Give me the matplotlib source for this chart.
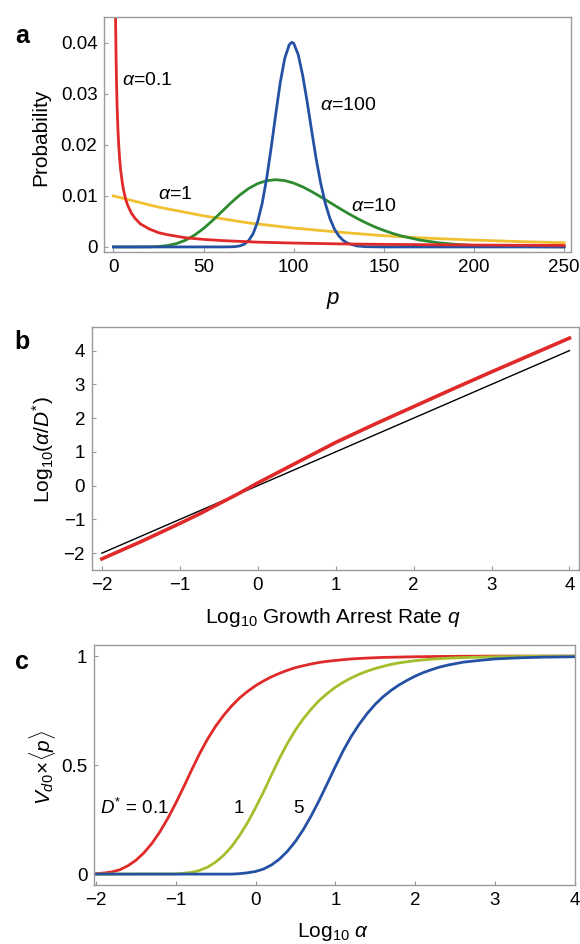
import numpy as np
import matplotlib
matplotlib.use('Agg')
import matplotlib.pyplot as plt

plt.rcParams['font.family'] = ['Liberation Sans', 'DejaVu Sans']
plt.rcParams['mathtext.fontset'] = 'custom'
plt.rcParams['mathtext.rm'] = 'Liberation Sans'
plt.rcParams['mathtext.it'] = 'Liberation Sans:italic'
plt.rcParams['axes.unicode_minus'] = True

# panel a: probability distributions
p_red = [1.2, 1.4, 1.6, 1.8, 2, 2.5, 3, 3.5, 4, 5, 6, 7, 8, 10, 12, 15, 20, 25, 30, 40, 50,
         60, 80, 100, 125, 150, 200, 250]
prob_red = [0.0447, 0.0389, 0.0345, 0.0310, 0.0282, 0.0231, 0.0196, 0.0171, 0.0151, 0.0124,
            0.0105, 0.0091, 0.0081, 0.0066, 0.0056, 0.0045, 0.0035, 0.0028, 0.0024, 0.0018,
            0.00148, 0.00125, 0.00094, 0.00076, 0.0006, 0.0005, 0.00037, 0.00029]
p_yellow = [0, 25, 50, 75, 100, 125, 150, 175, 200, 225, 250]
prob_yellow = [0.0100, 0.0078, 0.0061, 0.0047, 0.0037, 0.0029, 0.0022, 0.0017, 0.00135, 0.00105, 0.00082]
p_green = [0, 10, 20, 25, 30, 35, 40, 45, 50, 55, 60, 65, 70, 75, 80, 85, 90, 95, 100, 105,
           110, 115, 120, 125, 130, 135, 140, 145, 150, 155, 160, 170, 180, 190, 200, 220, 250]
prob_green = [0, 0.0000001, 0.00002, 0.00009, 0.00027, 0.00066, 0.00132, 0.00231, 0.00362,
              0.00518, 0.00688, 0.00858, 0.01014, 0.01145, 0.01241, 0.01298, 0.01318, 0.01300,
              0.01251, 0.01177, 0.01085, 0.00981, 0.00874, 0.00765, 0.00661, 0.00563, 0.00473,
              0.00393, 0.00324, 0.00264, 0.00213, 0.00135, 0.00083, 0.0005, 0.00029, 0.00009,
              0.00001]
p_blue = [0, 60, 65, 67.5, 70, 72.5, 75, 77.5, 80, 82.5, 85, 87.5, 90, 92.5, 95, 97.5, 99, 100,
          102.5, 105, 107.5, 110, 112.5, 115, 117.5, 120, 122.5, 125, 127.5, 130, 135, 140,
          150, 250]
prob_blue = [0, 0.000001, 0.00002, 0.000065, 0.0002, 0.00052, 0.00123, 0.00259, 0.00493,
             0.0085, 0.01341, 0.0194, 0.0259, 0.0321, 0.0369, 0.0396, 0.0401, 0.0399, 0.0377,
             0.0336, 0.0284, 0.0227, 0.0172, 0.01245, 0.00859, 0.00568, 0.00358, 0.00217,
             0.00127, 0.00071, 0.0002, 0.00005, 0, 0]

# panel b
q_log = [-2, -1.5, -1, -0.75, -0.5, -0.25, 0, 0.25, 0.5, 0.75, 1, 1.5, 2, 2.5, 3, 3.5, 4]
ratio_log = [-2.17, -1.66, -1.12, -0.84, -0.54, -0.24, 0.08, 0.38, 0.68, 0.98, 1.28, 1.82,
             2.34, 2.86, 3.37, 3.87, 4.37]
ref_x = [-2, 4]
ref_y = [-2, 4]

# panel c
a_red = [-2.0, -1.9, -1.8, -1.7, -1.6, -1.5, -1.4, -1.3, -1.2, -1.1, -1.0, -0.9, -0.8, -0.7,
         -0.6, -0.5, -0.4, -0.3, -0.2, -0.1, 0.0, 0.1, 0.2, 0.3, 0.4, 0.5, 0.6, 0.7, 0.8,
         0.9, 1.0, 1.2, 1.4, 1.6, 2.0, 2.5, 3.0, 4.0]
v_red = [0.002, 0.005, 0.010, 0.020, 0.038, 0.063, 0.097, 0.140, 0.193, 0.255, 0.325, 0.400,
         0.478, 0.553, 0.620, 0.678, 0.728, 0.771, 0.808, 0.838, 0.864, 0.886, 0.905, 0.921,
         0.935, 0.947, 0.956, 0.964, 0.971, 0.976, 0.980, 0.987, 0.991, 0.994, 0.997, 0.999,
         1.0, 1.0]
a_green = [-2.0, -1.0, -0.9, -0.8, -0.7, -0.6, -0.5, -0.4, -0.3, -0.2, -0.1, 0.0, 0.1, 0.2,
           0.3, 0.4, 0.5, 0.6, 0.7, 0.8, 0.9, 1.0, 1.1, 1.2, 1.3, 1.4, 1.5, 1.6, 1.7, 1.8,
           1.9, 2.0, 2.2, 2.5, 3.0, 3.5, 4.0]
v_green = [0.0, 0.001, 0.004, 0.008, 0.017, 0.032, 0.055, 0.086, 0.126, 0.177, 0.236, 0.304,
           0.377, 0.455, 0.531, 0.600, 0.661, 0.713, 0.758, 0.797, 0.829, 0.857, 0.880, 0.900,
           0.917, 0.931, 0.943, 0.953, 0.962, 0.969, 0.974, 0.979, 0.986, 0.992, 0.997,
           0.999, 1.0]
a_blue = [-2.0, -0.3, -0.2, -0.1, 0.0, 0.1, 0.2, 0.3, 0.4, 0.5, 0.6, 0.7, 0.8, 0.9, 1.0, 1.1,
          1.2, 1.3, 1.4, 1.5, 1.6, 1.7, 1.8, 1.9, 2.0, 2.1, 2.2, 2.3, 2.4, 2.5, 2.6, 2.8,
          3.0, 3.3, 3.6, 4.0]
v_blue = [0.0, 0.0, 0.002, 0.006, 0.012, 0.023, 0.042, 0.069, 0.105, 0.150, 0.205, 0.269,
          0.340, 0.416, 0.493, 0.567, 0.632, 0.688, 0.737, 0.779, 0.814, 0.843, 0.868, 0.889,
          0.908, 0.924, 0.937, 0.949, 0.958, 0.965, 0.972, 0.980, 0.987, 0.992, 0.995, 0.997]

RED = '#e02a2a'
YELLOW = '#f0c030'
GREEN = '#2e8a2e'
BLUE = '#2451a3'
LIME = '#a3bf2c'
FRAME = '#9a9a9a'
tsize = 13.5
lsize = 15
asize = 14


def style(ax):
    for s in ax.spines.values():
        s.set_color(FRAME)
        s.set_linewidth(1.0)
    ax.tick_params(direction='in', length=3, width=0.8, color=FRAME, labelsize=tsize, pad=5)


fig = plt.figure(figsize=(5.8, 9.44), dpi=100)

# ---- a
ax = fig.add_axes([0.180, 0.733, 0.805, 0.2487])
ax.plot(p_yellow, prob_yellow, color=YELLOW, lw=2.0)
ax.plot(p_green, prob_green, color=GREEN, lw=2.0)
ax.plot(p_blue, prob_blue, color=BLUE, lw=2.0)
ax.plot(p_red, prob_red, color=RED, lw=2.0)
ax.set_xlim(-5, 254)
ax.set_ylim(-0.001, 0.045)
ax.set_xticks([0, 50, 100, 150, 200, 250])
ax.set_yticks([0, 0.01, 0.02, 0.03, 0.04])
ax.set_yticklabels(['0', '0.01', '0.02', '0.03', '0.04'])
style(ax)
ax.set_ylabel('Probability', fontsize=lsize, va='center')
ax.yaxis.set_label_coords(-0.136, 0.49)
ax.set_xlabel('$p$', fontsize=lsize + 1, va='center')
ax.xaxis.set_label_coords(0.489, -0.205)
ax.text(4.6, 0.0327, r'$\alpha$=0.1', fontsize=asize, va='center')
ax.text(114.7, 0.0278, r'$\alpha$=100', fontsize=asize, va='center')
ax.text(24.8, 0.0102, r'$\alpha$=1', fontsize=asize, va='center')
ax.text(131.8, 0.0080, r'$\alpha$=10', fontsize=asize, va='center')

# ---- b
ax = fig.add_axes([0.1586, 0.3965, 0.8394, 0.2575])
ax.plot(ref_x, ref_y, color='black', lw=1.0)
ax.plot(q_log, ratio_log, color=RED, lw=2.6)
ax.set_xlim(-2.127, 4.12)
ax.set_ylim(-2.49, 4.71)
ax.set_xticks(range(-2, 5))
ax.set_yticks(range(-2, 5))
style(ax)
ax.set_ylabel(r'Log$_{10}$($\alpha$/$D^{*}$)', fontsize=lsize, va='center')
ax.yaxis.set_label_coords(-0.1006, 0.493)
ax.set_xlabel(r'Log$_{10}$ Growth Arrest Rate $q$', fontsize=lsize, va='center')
ax.xaxis.set_label_coords(0.495, -0.195)

# ---- c
ax = fig.add_axes([0.1626, 0.0625, 0.8284, 0.2545])
ax.plot(a_red, v_red, color=RED, lw=2.0)
ax.plot(a_green, v_green, color=LIME, lw=2.0)
ax.plot(a_blue, v_blue, color=BLUE, lw=2.0)
ax.set_xlim(-2.02, 4.0)
ax.set_ylim(-0.05, 1.052)
ax.set_xticks(range(-2, 5))
ax.set_yticks([0, 0.5, 1])
ax.set_yticklabels(['0', '0.5', '1'])
style(ax)
ax.set_ylabel(r'$V_{d0}\!\times\!\langle p\rangle$', fontsize=lsize, va='center')
ax.yaxis.set_label_coords(-0.107, 0.491)
ax.set_xlabel(r'Log$_{10}$ $\alpha$', fontsize=lsize, va='center')
ax.xaxis.set_label_coords(0.496, -0.196)
ax.text(-1.945, 0.302, r'$D^{*}$ = 0.1', fontsize=tsize, va='center', ha='left')
ax.text(-0.208, 0.302, '1', fontsize=tsize, va='center', ha='center')
ax.text(0.532, 0.302, '5', fontsize=tsize, va='center', ha='center')

for lab, y in [('a', 36), ('b', 342), ('c', 662)]:
    fig.text(22 / 580, 1 - y / 944, lab, fontsize=18, fontweight='bold', ha='center', va='center')

fig.savefig('out.png', dpi=100)
